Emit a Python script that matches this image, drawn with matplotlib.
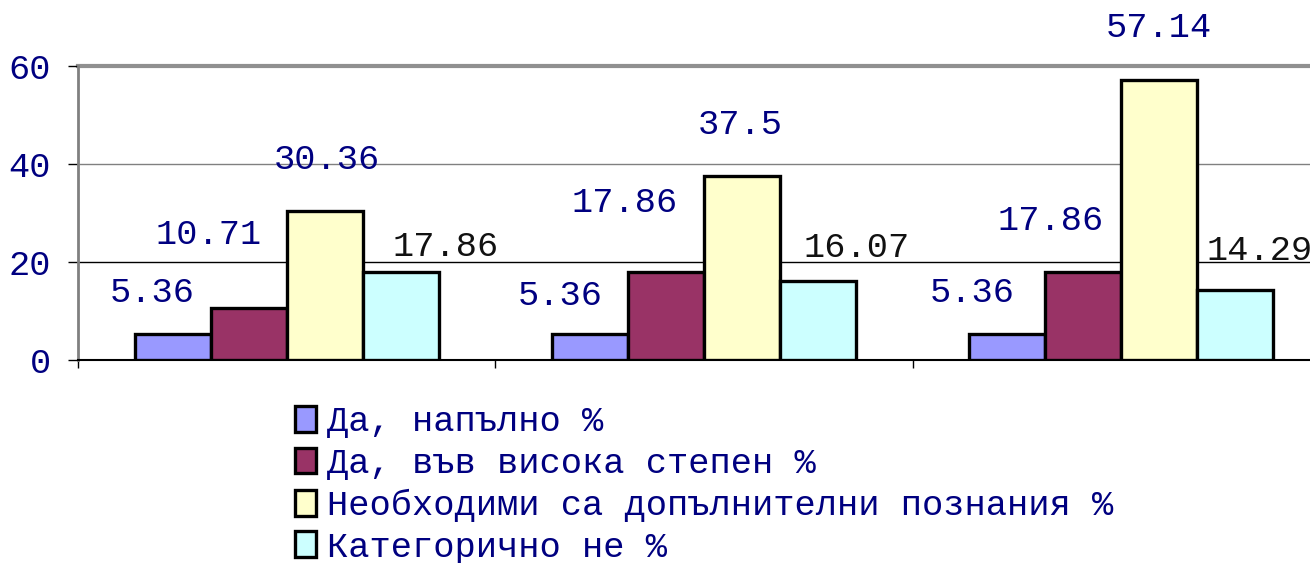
import numpy as np
import matplotlib
matplotlib.use("Agg")
import matplotlib.pyplot as plt
from matplotlib.patches import Patch

# data
groups = ["", "", ""]
series = ["Да, напълно %",
          "Да, във висока степен %",
          "Необходими са допълнителни познания %",
          "Категорично не %"]
values = [
    [5.36, 5.36, 5.36],
    [10.71, 17.86, 17.86],
    [30.36, 37.5, 57.14],
    [17.86, 16.07, 14.29],
]
colors = ["#9999FF", "#993366", "#FFFFCC", "#CCFFFF"]
label_colors = ["#000080", "#000080", "#000080", "#111111"]

# manual label shifts (pixels) per series / group, like moved excel labels
label_dx = [[-21, -30, -35], [-40, -41, -33], [2, -2, 0], [45, 39, 24]]
label_dy = [[41, 38, 41], [73, 70, 52], [52, 52, 53], [26, 34, 39]]

plt.rcParams['font.family'] = ['Liberation Mono', 'DejaVu Sans Mono']
fs = 25.5
navy = "#000080"

fig = plt.figure(figsize=(13.1, 5.63), dpi=100)
ax = fig.add_axes([78 / 1310, 1 - 360 / 563, 1252 / 1310, 294 / 563])

x = np.arange(len(groups))
w = 0.182
for i, vals in enumerate(values):
    pos = x + (i - 1.5) * w
    bars = ax.bar(pos, vals, w, color=colors[i], edgecolor="black",
                  linewidth=2.4, label=series[i], zorder=3)
    for j, b in enumerate(bars):
        ax.annotate(f"{vals[j]:g}",
                    (b.get_x() + b.get_width() / 2, b.get_height()),
                    xytext=(label_dx[i][j], label_dy[i][j]),
                    textcoords="offset pixels", ha="center", va="center",
                    fontsize=fs, color=label_colors[i], zorder=5)

ax.set_xlim(-0.5, 2.5)
ax.set_ylim(0, 60)
ax.set_yticks([0, 20, 40, 60])
ax.set_yticklabels(["0", "20", "40", "60"], fontsize=fs, color=navy)
ax.set_xticks([-0.5, 0.5, 1.5, 2.5])
ax.set_xticklabels(["", "", "", ""])
ax.tick_params(axis="y", length=7.5, width=1, color="black", pad=12)
ax.tick_params(axis="x", length=6, width=1, color="black")

ax.axhline(20, color="black", lw=1, zorder=1)
ax.axhline(40, color="#808080", lw=1, zorder=1)
ax.axhline(60, color="#909090", lw=3, zorder=1, clip_on=False)

for s in ["top", "right"]:
    ax.spines[s].set_visible(False)
ax.spines["left"].set_color("#808080")
ax.spines["left"].set_linewidth(2)
ax.spines["bottom"].set_color("black")
ax.spines["bottom"].set_linewidth(1.5)

handles = [Patch(facecolor=c, edgecolor="black", linewidth=2.4) for c in colors]
leg = fig.legend(handles, series, loc="upper left",
                 bbox_to_anchor=(295 / 1310, 1 - 405 / 563),
                 frameon=False, fontsize=fs, handlelength=0.6,
                 handleheight=0.75, handletextpad=0.3, labelspacing=0.25,
                 borderpad=0, borderaxespad=0)
for t in leg.get_texts():
    t.set_color(navy)

fig.savefig("out.png", dpi=100)
